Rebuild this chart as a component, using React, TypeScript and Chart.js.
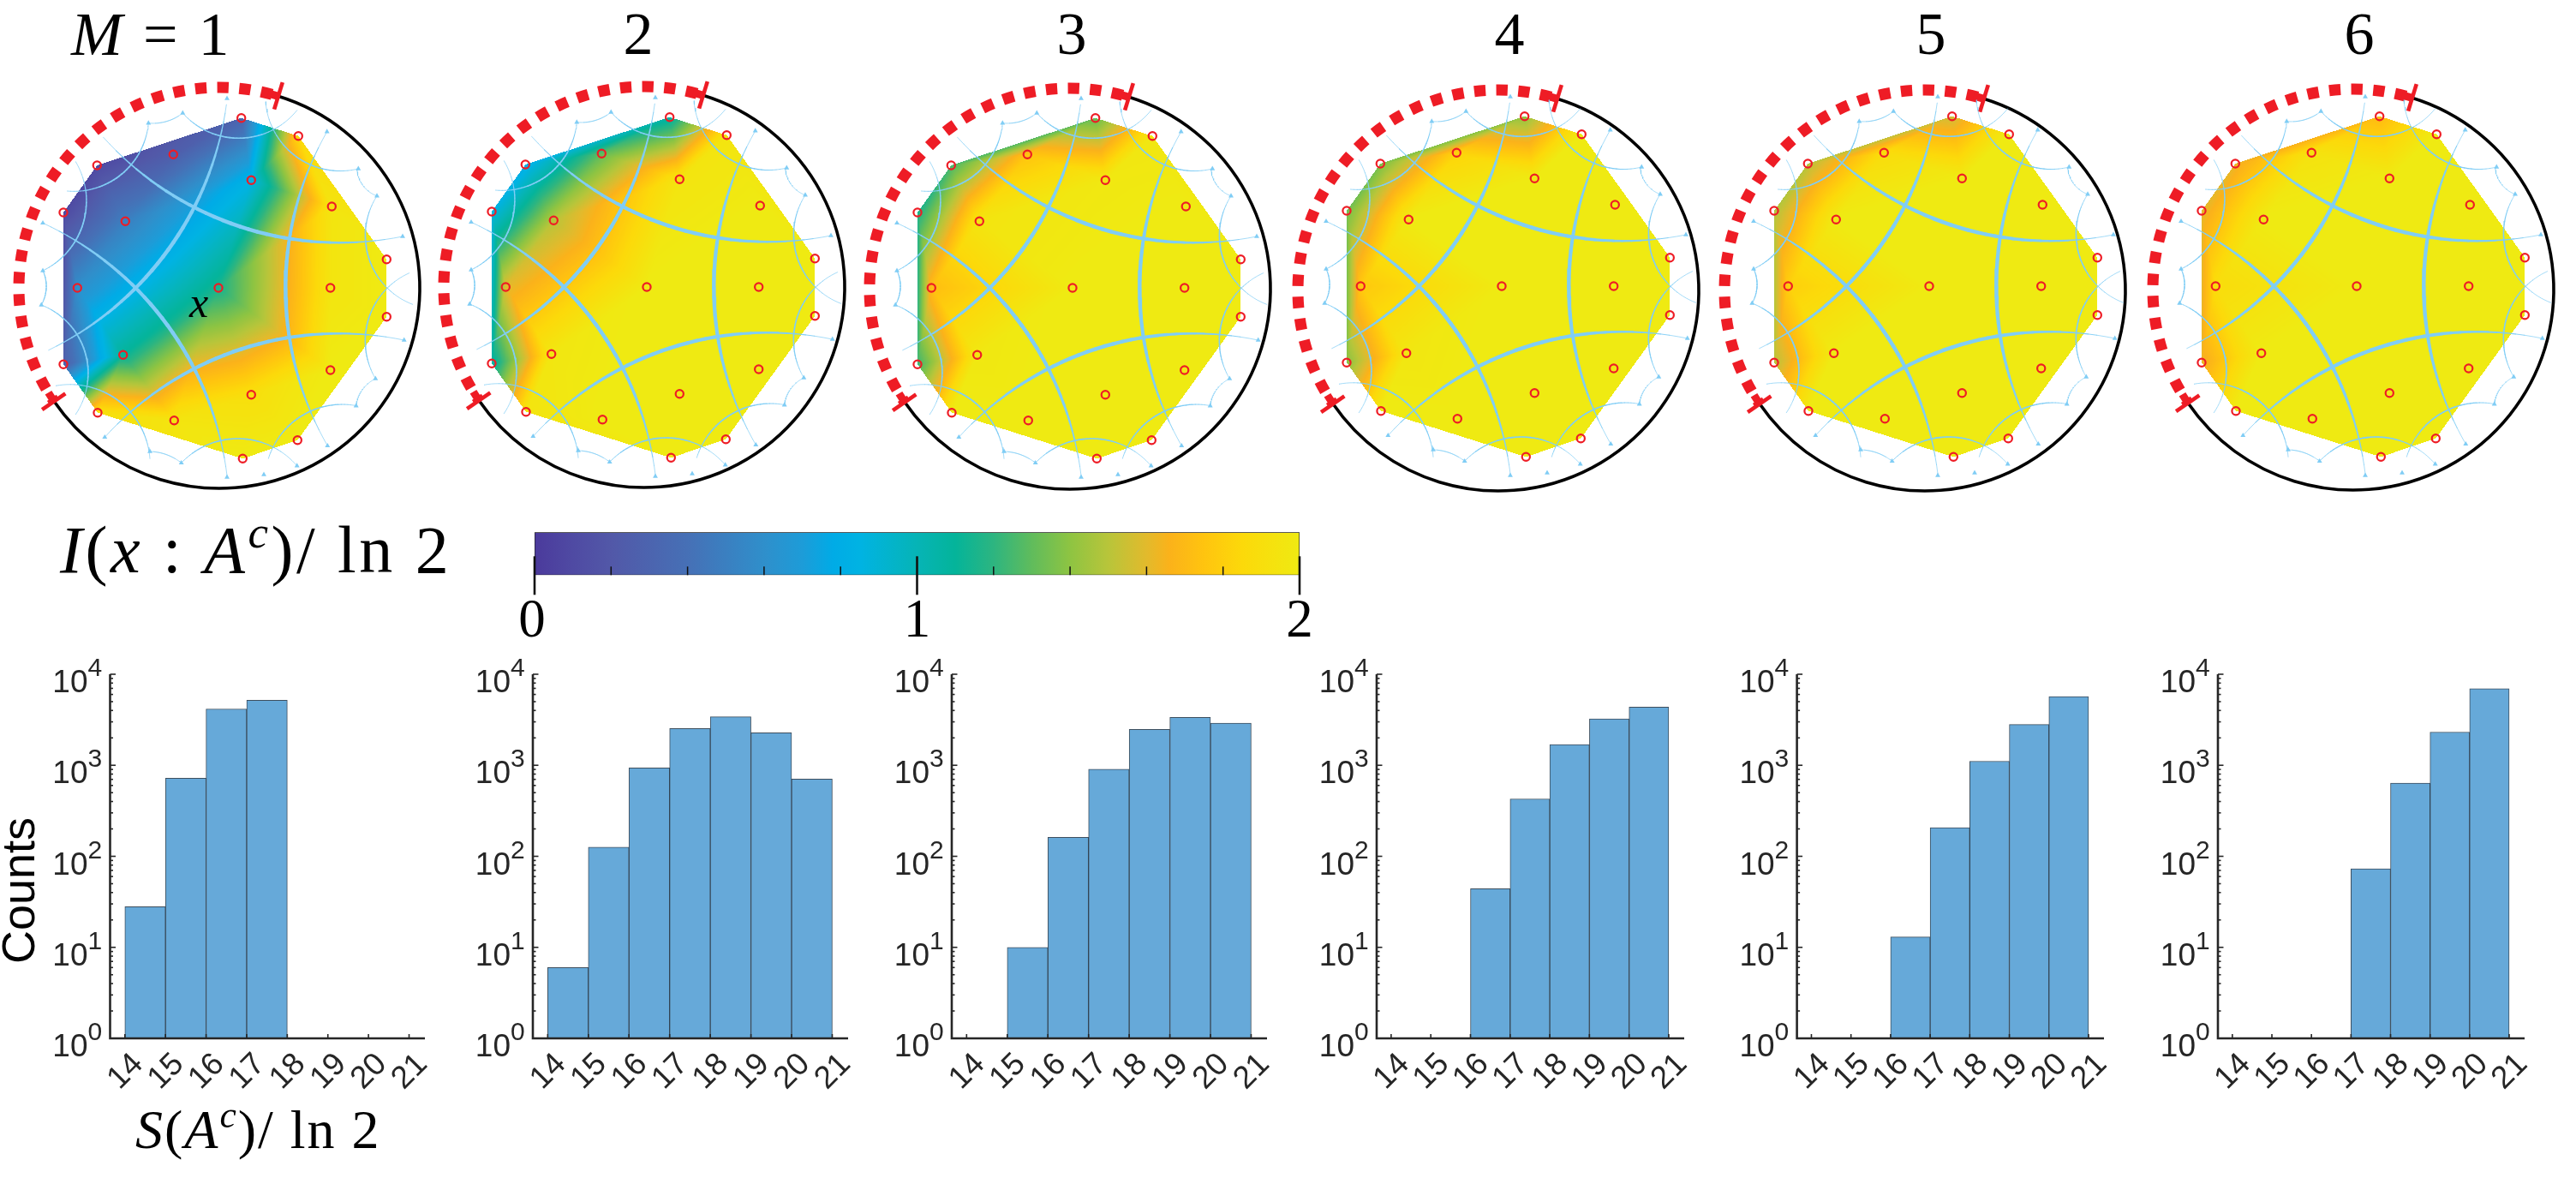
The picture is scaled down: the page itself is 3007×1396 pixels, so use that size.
import React, { useEffect, useRef } from 'react';
import { Chart, registerables } from 'chart.js';

Chart.register(...registerables);

// --- lattice sites of the code, in disc units (1 unit = 1 px, y pointing down)
const siteX = [0, 130.7, 38.3, -108.7, -111.3, 38.3, 132.3, -52.7, -164.7, -51.7, 130.7, 196.3, 196.3, 93.3, 26.7, -141.7, -181, -181, -141, 28.3, 92.3];
const siteY = [0, 0, -125.7, -77.7, 78.3, 124.7, -95, -155.7, 0, 154.7, 96, -33.3, 33.7, -177.3, -198.3, -143, -88, 89.3, 145.7, 199.3, 177.7];

// I(x : A^c) / ln 2 read at every site, one list per panel
const infoM1 = [1.15, 1.95, 0.85, 0.5, 1.1, 1.9, 1.95, 0.25, 0.6, 1.95, 2, 2, 2, 1.85, 0.3, 0.1, 0.1, 0.25, 1.9, 2, 2];
const infoM2 = [2, 2, 1.95, 1.5, 1.97, 2, 2, 1.3, 1.6, 2, 2, 2, 2, 1.95, 1.05, 0.8, 0.85, 1.05, 1.95, 2, 2];
const infoM3 = [2, 2, 1.98, 1.95, 1.98, 2, 2, 1.75, 1.72, 2, 2, 2, 2, 1.97, 1.3, 1.25, 1.15, 1.22, 2, 2, 2];
const infoM4 = [2, 2, 2, 2, 1.97, 2, 2, 1.82, 1.77, 2, 2, 2, 2, 2, 1.4, 1.35, 1.33, 1.38, 2, 2, 2];
const infoM5 = [2, 2, 2, 2, 2, 2, 2, 1.88, 1.8, 2, 2, 2, 2, 2, 1.55, 1.5, 1.48, 1.5, 2, 2, 2];
const infoM6 = [2, 2, 2, 2, 2, 2, 2, 1.93, 1.88, 2, 2, 2, 2, 2, 1.7, 1.62, 1.6, 1.62, 2, 2, 2];
const infoPanels = [infoM1, infoM2, infoM3, infoM4, infoM5, infoM6];

// histogram of S(A^c)/ln 2
const binStarts = [14, 15, 16, 17, 18, 19, 20];
const countsM1 = [28, 720, 4160, 5180, null, null, null];
const countsM2 = [6, 126, 936, 2540, 3415, 2277, 704];
const countsM3 = [null, 10, 162, 906, 2484, 3352, 2897];
const countsM4 = [null, null, 44, 427, 1690, 3227, 4355];
const countsM5 = [null, null, 13, 206, 1109, 2803, 5687];
const countsM6 = [null, null, null, 73, 637, 2314, 6956];
const countPanels = [countsM1, countsM2, countsM3, countsM4, countsM5, countsM6];

const xTicks = [14, 15, 16, 17, 18, 19, 20, 21];
const decades = [0, 1, 2, 3, 4];
const minorSteps = [2, 3, 4, 5, 6, 7, 8, 9];

const barTicks = [0, 0.2, 0.4, 0.6, 0.8, 1, 1.2, 1.4, 1.6, 1.8, 2];
const barLabels = [0, 1, 2];

const panelTitles = ['', '2', '3', '4', '5', '6'];

// colour map of the figure
const mapValues = [0, 0.1, 0.2, 0.4, 0.6, 0.7, 0.78, 0.85, 1, 1.1, 1.2, 1.3, 1.4, 1.5, 1.6, 1.66, 1.75, 1.85, 2];
const mapColours = ['#4b3a9c', '#4f4aa3', '#5258a8', '#4670b6', '#2f8fcb', '#1d9cd8', '#00abe6', '#00b3e3', '#06b4b6', '#04b49a', '#2db580', '#60bc5c', '#8ec442', '#b8c53a', '#e2ba2c', '#fbb21a', '#ffc40f', '#fcd90a', '#efea12'];

// tiling geodesics: start, point on the arc, end
const geodesics = [
  [-134.3, -175.7, -28.3, -94, 215, -60],
  [-132.7, 174.3, -28.3, 94.3, 216.7, 61],
  [9.3, -214, -28.3, -94, -198.3, 72.7],
  [-205, -75.7, -28.3, 94.3, 10, 219],
  [126.7, -182.3, 78.3, 0, 127.3, 184.3],
  [185, -107.3, 171.7, -54, 226.7, 19.3],
  [222.7, -17.3, 171.7, 54, 183.3, 106],
  [55, -217.3, 106.7, -144, 163.3, -139],
  [58.3, 199.3, 106.7, 144.3, 161.7, 137.7],
  [-41.7, -204, 23.3, -174.7, 91.7, -207.3],
  [-43.3, 204.3, 23.3, 176, 91.7, 207.7],
  [-176.7, -113, -101.7, -144, -81.7, -192.3],
  [-190, 114.3, -101.7, 146, -80, 199.3],
  [-166.7, -147.3, -155, -114, -205, -20],
  [-206.7, 20, -153.3, 114.3, -166.7, 147.7],
  [161.7, -139, 166.7, -122.3, 185, -107.3],
  [183.3, 106, 166.7, 121, 160.7, 137.7],
  [-81.7, -192.3, -61.7, -194, -41.7, -204],
  [-80, 191, -61.7, 194.3, -43.3, 204.3],
  [-205, -20, -201, 0, -206.7, 20],
];
const arrowX = [-81.7, -41.7, 163.3, 185, -205, -206.7, -80, -43.3, 160.7, 183.3, 126.7, -132.7, -205, 10, 10, 215, 216.7, 91.7, 127.3, 53];
const arrowY = [-192.3, -204, -139, -107.3, -20, 20, 191, 204.3, 137.7, 106, -182.3, 174.3, -75.7, -221, 221, -60, 61, 207.7, 184.3, 218];

// --- layout of the figure
const discLefts = [255, 755, 1252, 1753, 2252, 2751];
const discTops = [336, 335, 336, 334, 334, 334];
const circleDx = [1, -3, -3, -4, -5, -4];
const circleDy = [0, 0, 1, 5, 5, 4];
const axisLefts = [128.5, 622, 1111, 1607, 2097.6, 2589];
const axisRights = [496, 990, 1478.7, 1965.5, 2456, 2947];
const xMin = 13.635;
const xMax = 21.39;

const rad = (d: number) => (d * Math.PI) / 180;

function mapLookup() {
  const rgb = mapColours.map((c) => [1, 3, 5].map((i) => parseInt(c.slice(i, i + 2), 16)));
  const lut: number[][] = [];
  for (let k = 0; k <= 512; k++) {
    const v = (k / 512) * 2;
    let i = 0;
    while (i < mapValues.length - 2 && v > mapValues[i + 1]) i++;
    const t = (v - mapValues[i]) / (mapValues[i + 1] - mapValues[i]);
    lut.push(rgb[i].map((a, n) => a + (rgb[i + 1][n] - a) * t));
  }
  return lut;
}
const lut = mapLookup();

// Delaunay triangles of the sites, brute force (21 points only)
function triangulate() {
  const out: number[][] = [];
  const n = siteX.length;
  for (let a = 0; a < n; a++)
    for (let b = a + 1; b < n; b++)
      for (let c = b + 1; c < n; c++) {
        const [ax, ay, bx, by, cx, cy] = [siteX[a], siteY[a], siteX[b], siteY[b], siteX[c], siteY[c]];
        const d = 2 * (ax * (by - cy) + bx * (cy - ay) + cx * (ay - by));
        if (Math.abs(d) < 1e-6) continue;
        const ux = ((ax * ax + ay * ay) * (by - cy) + (bx * bx + by * by) * (cy - ay) + (cx * cx + cy * cy) * (ay - by)) / d;
        const uy = ((ax * ax + ay * ay) * (cx - bx) + (bx * bx + by * by) * (ax - cx) + (cx * cx + cy * cy) * (bx - ax)) / d;
        const r = Math.hypot(ax - ux, ay - uy);
        let empty = true;
        for (let k = 0; k < n && empty; k++) {
          if (k === a || k === b || k === c) continue;
          if (Math.hypot(siteX[k] - ux, siteY[k] - uy) < r - 1e-6) empty = false;
        }
        if (empty) out.push([a, b, c]);
      }
  return out;
}
const triangles = triangulate();

function arcPoints(g: number[]) {
  const [ax, ay, bx, by, cx, cy] = g;
  const d = 2 * (ax * (by - cy) + bx * (cy - ay) + cx * (ay - by));
  const ux = ((ax * ax + ay * ay) * (by - cy) + (bx * bx + by * by) * (cy - ay) + (cx * cx + cy * cy) * (ay - by)) / d;
  const uy = ((ax * ax + ay * ay) * (cx - bx) + (bx * bx + by * by) * (ax - cx) + (cx * cx + cy * cy) * (bx - ax)) / d;
  const r = Math.hypot(ax - ux, ay - uy);
  const a0 = Math.atan2(ay - uy, ax - ux);
  let a1 = Math.atan2(by - uy, bx - ux);
  let a2 = Math.atan2(cy - uy, cx - ux);
  while (a1 < a0) a1 += 2 * Math.PI;
  while (a2 < a0) a2 += 2 * Math.PI;
  if (a1 > a2) a2 -= 2 * Math.PI; // go the other way round
  const pts = [];
  for (let i = 0; i <= 36; i++) {
    const t = a0 + ((a2 - a0) * i) / 36;
    pts.push({ x: ux + r * Math.cos(t), y: uy + r * Math.sin(t) });
  }
  return pts;
}

function discPlugin(index: number) {
  return {
    id: 'discLayers',
    beforeDatasetsDraw(chart: any) {
      const { ctx, scales } = chart;
      const values = infoPanels[index];
      const px = siteX.map((v) => scales.x.getPixelForValue(v));
      const py = siteY.map((v) => scales.y.getPixelForValue(v));

      // heat map: linear inside each triangle
      const off = document.createElement('canvas');
      off.width = chart.width;
      off.height = chart.height;
      const octx = off.getContext('2d') as CanvasRenderingContext2D;
      const img = octx.createImageData(off.width, off.height);
      triangles.forEach(([a, b, c]) => {
        const det = (py[b] - py[c]) * (px[a] - px[c]) + (px[c] - px[b]) * (py[a] - py[c]);
        const x0 = Math.floor(Math.min(px[a], px[b], px[c]));
        const x1 = Math.ceil(Math.max(px[a], px[b], px[c]));
        const y0 = Math.floor(Math.min(py[a], py[b], py[c]));
        const y1 = Math.ceil(Math.max(py[a], py[b], py[c]));
        for (let j = y0; j <= y1; j++) {
          for (let i = x0; i <= x1; i++) {
            const l0 = ((py[b] - py[c]) * (i + 0.5 - px[c]) + (px[c] - px[b]) * (j + 0.5 - py[c])) / det;
            const l1 = ((py[c] - py[a]) * (i + 0.5 - px[c]) + (px[a] - px[c]) * (j + 0.5 - py[c])) / det;
            const l2 = 1 - l0 - l1;
            if (l0 < 0 || l1 < 0 || l2 < 0) continue;
            const v = l0 * values[a] + l1 * values[b] + l2 * values[c];
            const col = lut[Math.max(0, Math.min(512, Math.round((v / 2) * 512)))];
            const k = (j * img.width + i) * 4;
            img.data[k] = col[0];
            img.data[k + 1] = col[1];
            img.data[k + 2] = col[2];
            img.data[k + 3] = 255;
          }
        }
      });
      octx.putImageData(img, 0, 0);
      ctx.drawImage(off, 0, 0);

      // boundary circle, subsystem A dashed in red
      const cx = scales.x.getPixelForValue(circleDx[index]);
      const cy = scales.y.getPixelForValue(circleDy[index]);
      const R = scales.x.getPixelForValue(234) - scales.x.getPixelForValue(0);
      const start = 145.5;
      const stop = 287.1;
      ctx.save();
      ctx.strokeStyle = '#000';
      ctx.lineWidth = 3.6;
      ctx.beginPath();
      ctx.arc(cx, cy, R, rad(stop - 360), rad(start));
      ctx.stroke();
      ctx.strokeStyle = '#ee1c25';
      ctx.lineWidth = 13;
      ctx.setLineDash([13.3, 12.4]);
      ctx.lineDashOffset = 8.2;
      ctx.beginPath();
      ctx.arc(cx, cy, R, rad(start), rad(stop - 1.6));
      ctx.stroke();
      ctx.setLineDash([]);
      [start, stop].forEach((a, n) => {
        const u = Math.cos(rad(a));
        const v = Math.sin(rad(a));
        ctx.lineWidth = 4.6;
        ctx.beginPath();
        ctx.moveTo(cx + (R - 16) * u, cy + (R - 16) * v);
        ctx.lineTo(cx + (R + 17) * u, cy + (R + 17) * v);
        ctx.stroke();
        ctx.lineWidth = 9;
        ctx.beginPath();
        const side = n === 0 ? 1 : -1;
        ctx.arc(cx, cy, R, rad(Math.min(a, a + side * 3)), rad(Math.max(a, a + side * 3)));
        ctx.stroke();
      });
      ctx.restore();
    },
    afterDatasetsDraw(chart: any) {
      if (index !== 0) return;
      const { ctx, scales } = chart;
      ctx.save();
      ctx.fillStyle = '#000';
      ctx.font = 'italic 50px "Liberation Serif"';
      ctx.textAlign = 'center';
      ctx.textBaseline = 'alphabetic';
      ctx.fillText('x', scales.x.getPixelForValue(-23), scales.y.getPixelForValue(34));
      ctx.restore();
    },
  };
}

function Disc({ index }: { index: number }) {
  const ref = useRef<HTMLCanvasElement>(null);
  useEffect(() => {
    if (!ref.current) return;
    const arcs = geodesics.map((g) => ({
      type: 'scatter',
      data: arcPoints(g),
      showLine: true,
      pointRadius: 0,
      borderColor: '#80cdf5',
      borderCapStyle: 'round',
      segment: {
        borderWidth: (c: any) => {
          const x = (c.p0.parsed.x + c.p1.parsed.x) / 2;
          const y = (c.p0.parsed.y + c.p1.parsed.y) / 2;
          const r2 = (x * x + y * y) / (234 * 234);
          return Math.max(0.7, 5.2 * Math.pow(1 - r2, 1.35));
        },
      },
    }));
    const chart = new Chart(ref.current, {
      type: 'scatter',
      data: {
        datasets: [
          {
            data: siteX.map((x, i) => ({ x, y: siteY[i] })),
            pointRadius: 4.6,
            pointBorderWidth: 2.2,
            pointBackgroundColor: 'transparent',
            pointBorderColor: '#ee1c25',
            showLine: false,
          },
          {
            data: arrowX.map((x, i) => ({ x, y: arrowY[i] })),
            pointStyle: 'triangle',
            pointRadius: 3.4,
            pointBorderWidth: 0,
            pointBackgroundColor: '#80cdf5',
            showLine: false,
          },
          ...arcs,
        ],
      } as any,
      options: {
        responsive: false,
        animation: false,
        devicePixelRatio: 1,
        layout: { padding: 0, autoPadding: false },
        plugins: { legend: { display: false }, tooltip: { enabled: false } },
        scales: {
          x: { type: 'linear', min: -260, max: 260, display: false },
          y: { type: 'linear', min: -260, max: 260, reverse: true, display: false },
        },
      } as any,
      plugins: [discPlugin(index)],
    });
    return () => chart.destroy();
  }, [index]);
  return (
    <canvas
      ref={ref}
      width={520}
      height={520}
      style={{ position: 'absolute', left: discLefts[index] - 260, top: discTops[index] - 260 }}
    />
  );
}

function histogramPlugin(showTitle: boolean) {
  return {
    id: 'histogramAxes',
    afterDatasetsDraw(chart: any) {
      const { ctx, scales, chartArea } = chart;
      const ink = '#262626';
      ctx.save();
      ctx.strokeStyle = ink;
      ctx.fillStyle = ink;

      ctx.lineWidth = 2.6;
      ctx.beginPath();
      ctx.moveTo(chartArea.left, chartArea.top);
      ctx.lineTo(chartArea.left, chartArea.bottom);
      ctx.lineTo(chartArea.right, chartArea.bottom);
      ctx.stroke();

      ctx.lineWidth = 1.6;
      decades.forEach((d) => {
        const p = scales.y.getPixelForValue(Math.pow(10, d));
        ctx.beginPath();
        ctx.moveTo(chartArea.left, p);
        ctx.lineTo(chartArea.left + 6.5, p);
        ctx.stroke();
        if (d < 4) {
          minorSteps.forEach((m) => {
            const q = scales.y.getPixelForValue(m * Math.pow(10, d));
            ctx.beginPath();
            ctx.moveTo(chartArea.left, q);
            ctx.lineTo(chartArea.left + 3.5, q);
            ctx.stroke();
          });
        }
        ctx.textBaseline = 'alphabetic';
        ctx.textAlign = 'right';
        ctx.font = '37px "Liberation Sans"';
        ctx.fillText('10', chartArea.left - 26, p + 21);
        ctx.textAlign = 'left';
        ctx.font = '30px "Liberation Sans"';
        ctx.fillText(String(d), chartArea.left - 26, p + 2);
      });

      xTicks.forEach((t) => {
        const p = scales.x.getPixelForValue(t);
        ctx.beginPath();
        ctx.moveTo(p, chartArea.bottom);
        ctx.lineTo(p, chartArea.bottom - 5);
        ctx.stroke();
        ctx.save();
        ctx.translate(p + 1, chartArea.bottom + 39);
        ctx.rotate(rad(-45));
        ctx.font = '37px "Liberation Sans"';
        ctx.textAlign = 'center';
        ctx.textBaseline = 'middle';
        ctx.fillText(String(t), 0, 0);
        ctx.restore();
      });

      if (showTitle) {
        ctx.save();
        ctx.fillStyle = '#000';
        ctx.translate(chartArea.left - 103.5, (chartArea.top + chartArea.bottom) / 2 + 40);
        ctx.rotate(rad(-90));
        ctx.font = '54px "Liberation Sans"';
        ctx.textAlign = 'center';
        ctx.textBaseline = 'middle';
        ctx.fillText('Counts', 0, 0);
        ctx.restore();
      }
      ctx.restore();
    },
  };
}

function Histogram({ index }: { index: number }) {
  const ref = useRef<HTMLCanvasElement>(null);
  const left = Math.round(axisLefts[index]) - 128;
  const areaWidth = axisRights[index] - axisLefts[index];
  useEffect(() => {
    if (!ref.current) return;
    const chart = new Chart(ref.current, {
      type: 'bar',
      data: {
        datasets: [
          {
            data: binStarts.map((b, i) => ({ x: b + 0.5, y: countPanels[index][i] })),
            backgroundColor: '#66a9d9',
            borderColor: 'rgba(28,48,66,0.85)',
            borderWidth: 1,
            borderSkipped: false,
            barThickness: areaWidth / (xMax - xMin),
          },
        ],
      },
      options: {
        responsive: false,
        animation: false,
        devicePixelRatio: 1,
        layout: { padding: { left: axisLefts[index] - left, right: 30, top: 27, bottom: 88 } },
        plugins: { legend: { display: false }, tooltip: { enabled: false } },
        scales: {
          x: { type: 'linear', min: xMin, max: xMax, display: false, offset: false },
          y: { type: 'logarithmic', min: 1, max: 10000, display: false },
        },
      } as any,
      plugins: [histogramPlugin(index === 0)],
    });
    return () => chart.destroy();
  }, [index]);
  return (
    <canvas
      ref={ref}
      width={Math.ceil(axisLefts[index] - left + areaWidth + 30)}
      height={540}
      style={{ position: 'absolute', left, top: 760 }}
    />
  );
}

const colourBarPlugin = {
  id: 'colourBarAxis',
  afterDatasetsDraw(chart: any) {
    const { ctx, scales, chartArea } = chart;
    ctx.save();
    ctx.strokeStyle = '#111';
    barTicks.forEach((t) => {
      const p = scales.x.getPixelForValue(t);
      const major = barLabels.includes(t);
      ctx.lineWidth = major ? 2.6 : 1.5;
      ctx.beginPath();
      ctx.moveTo(p, major ? chartArea.bottom - 22 : chartArea.bottom - 10);
      ctx.lineTo(p, major ? chartArea.bottom + 23 : chartArea.bottom);
      ctx.stroke();
    });
    ctx.fillStyle = '#000';
    ctx.font = '63px "Liberation Serif"';
    ctx.textAlign = 'center';
    ctx.textBaseline = 'alphabetic';
    barLabels.forEach((t) => {
      ctx.fillText(String(t), scales.x.getPixelForValue(t) - (t === 0 ? 3 : 0), chartArea.bottom + 72);
    });
    ctx.restore();
  },
};

function ColourBar() {
  const ref = useRef<HTMLCanvasElement>(null);
  useEffect(() => {
    if (!ref.current) return;
    const chart = new Chart(ref.current, {
      type: 'bar',
      data: {
        labels: [''],
        datasets: [
          {
            data: [[0, 2]],
            barPercentage: 1,
            categoryPercentage: 1,
            borderColor: '#222',
            borderWidth: 1,
            borderSkipped: false,
            backgroundColor: (c: any) => {
              const { chartArea, ctx } = c.chart;
              if (!chartArea) return '#00b3e3';
              const g = ctx.createLinearGradient(chartArea.left, 0, chartArea.right, 0);
              mapValues.forEach((v, i) => g.addColorStop(v / 2, mapColours[i]));
              return g;
            },
          },
        ],
      },
      options: {
        indexAxis: 'y',
        responsive: false,
        animation: false,
        devicePixelRatio: 1,
        layout: { padding: { left: 24, right: 33, top: 21.3, bottom: 88.7 } },
        plugins: { legend: { display: false }, tooltip: { enabled: false } },
        scales: {
          x: { type: 'linear', min: 0, max: 2, display: false },
          y: { display: false },
        },
      } as any,
      plugins: [colourBarPlugin],
    });
    return () => chart.destroy();
  }, []);
  return <canvas ref={ref} width={950} height={160} style={{ position: 'absolute', left: 600, top: 600 }} />;
}

function MathLabel({ left, baseline, size, centre, spacing, children }: any) {
  return (
    <div
      style={{
        position: 'absolute',
        left,
        top: baseline - 0.8375 * size,
        fontFamily: '"Liberation Serif"',
        fontSize: size,
        letterSpacing: spacing || 0,
        lineHeight: 1,
        whiteSpace: 'pre',
        color: '#000',
        transform: centre ? 'translateX(-50%)' : undefined,
      }}
    >
      {children}
    </div>
  );
}

const Sup = ({ children }: any) => (
  <sup style={{ fontSize: '0.68em', lineHeight: 0, verticalAlign: '0.55em' }}>
    <i>{children}</i>
  </sup>
);

const titleCentres = [0, 745, 1251, 1762, 2254, 2754];

export default function App() {
  return (
    <div style={{ position: 'absolute', left: 0, top: 0, width: 3007, height: 1396, background: '#fff', overflow: 'hidden' }}>
      {infoPanels.map((_, i) => (
        <Disc key={i} index={i} />
      ))}
      {countPanels.map((_, i) => (
        <Histogram key={i} index={i} />
      ))}
      <ColourBar />
      <MathLabel left={83} baseline={64} size={72} spacing={3}>
        <i>M</i> = 1
      </MathLabel>
      {panelTitles.map((t, i) =>
        t ? (
          <MathLabel key={i} left={titleCentres[i]} baseline={64} size={70} centre>
            {t}
          </MathLabel>
        ) : null,
      )}
      <MathLabel left={70} baseline={668} size={78} spacing={3.5}>
        <i>I</i>(<i>x</i> : <i>A</i>
        <Sup>c</Sup>)/ ln 2
      </MathLabel>
      <MathLabel left={158} baseline={1341} size={64} spacing={2}>
        <i>S</i>(<i>A</i>
        <Sup>c</Sup>)/ ln 2
      </MathLabel>
    </div>
  );
}
